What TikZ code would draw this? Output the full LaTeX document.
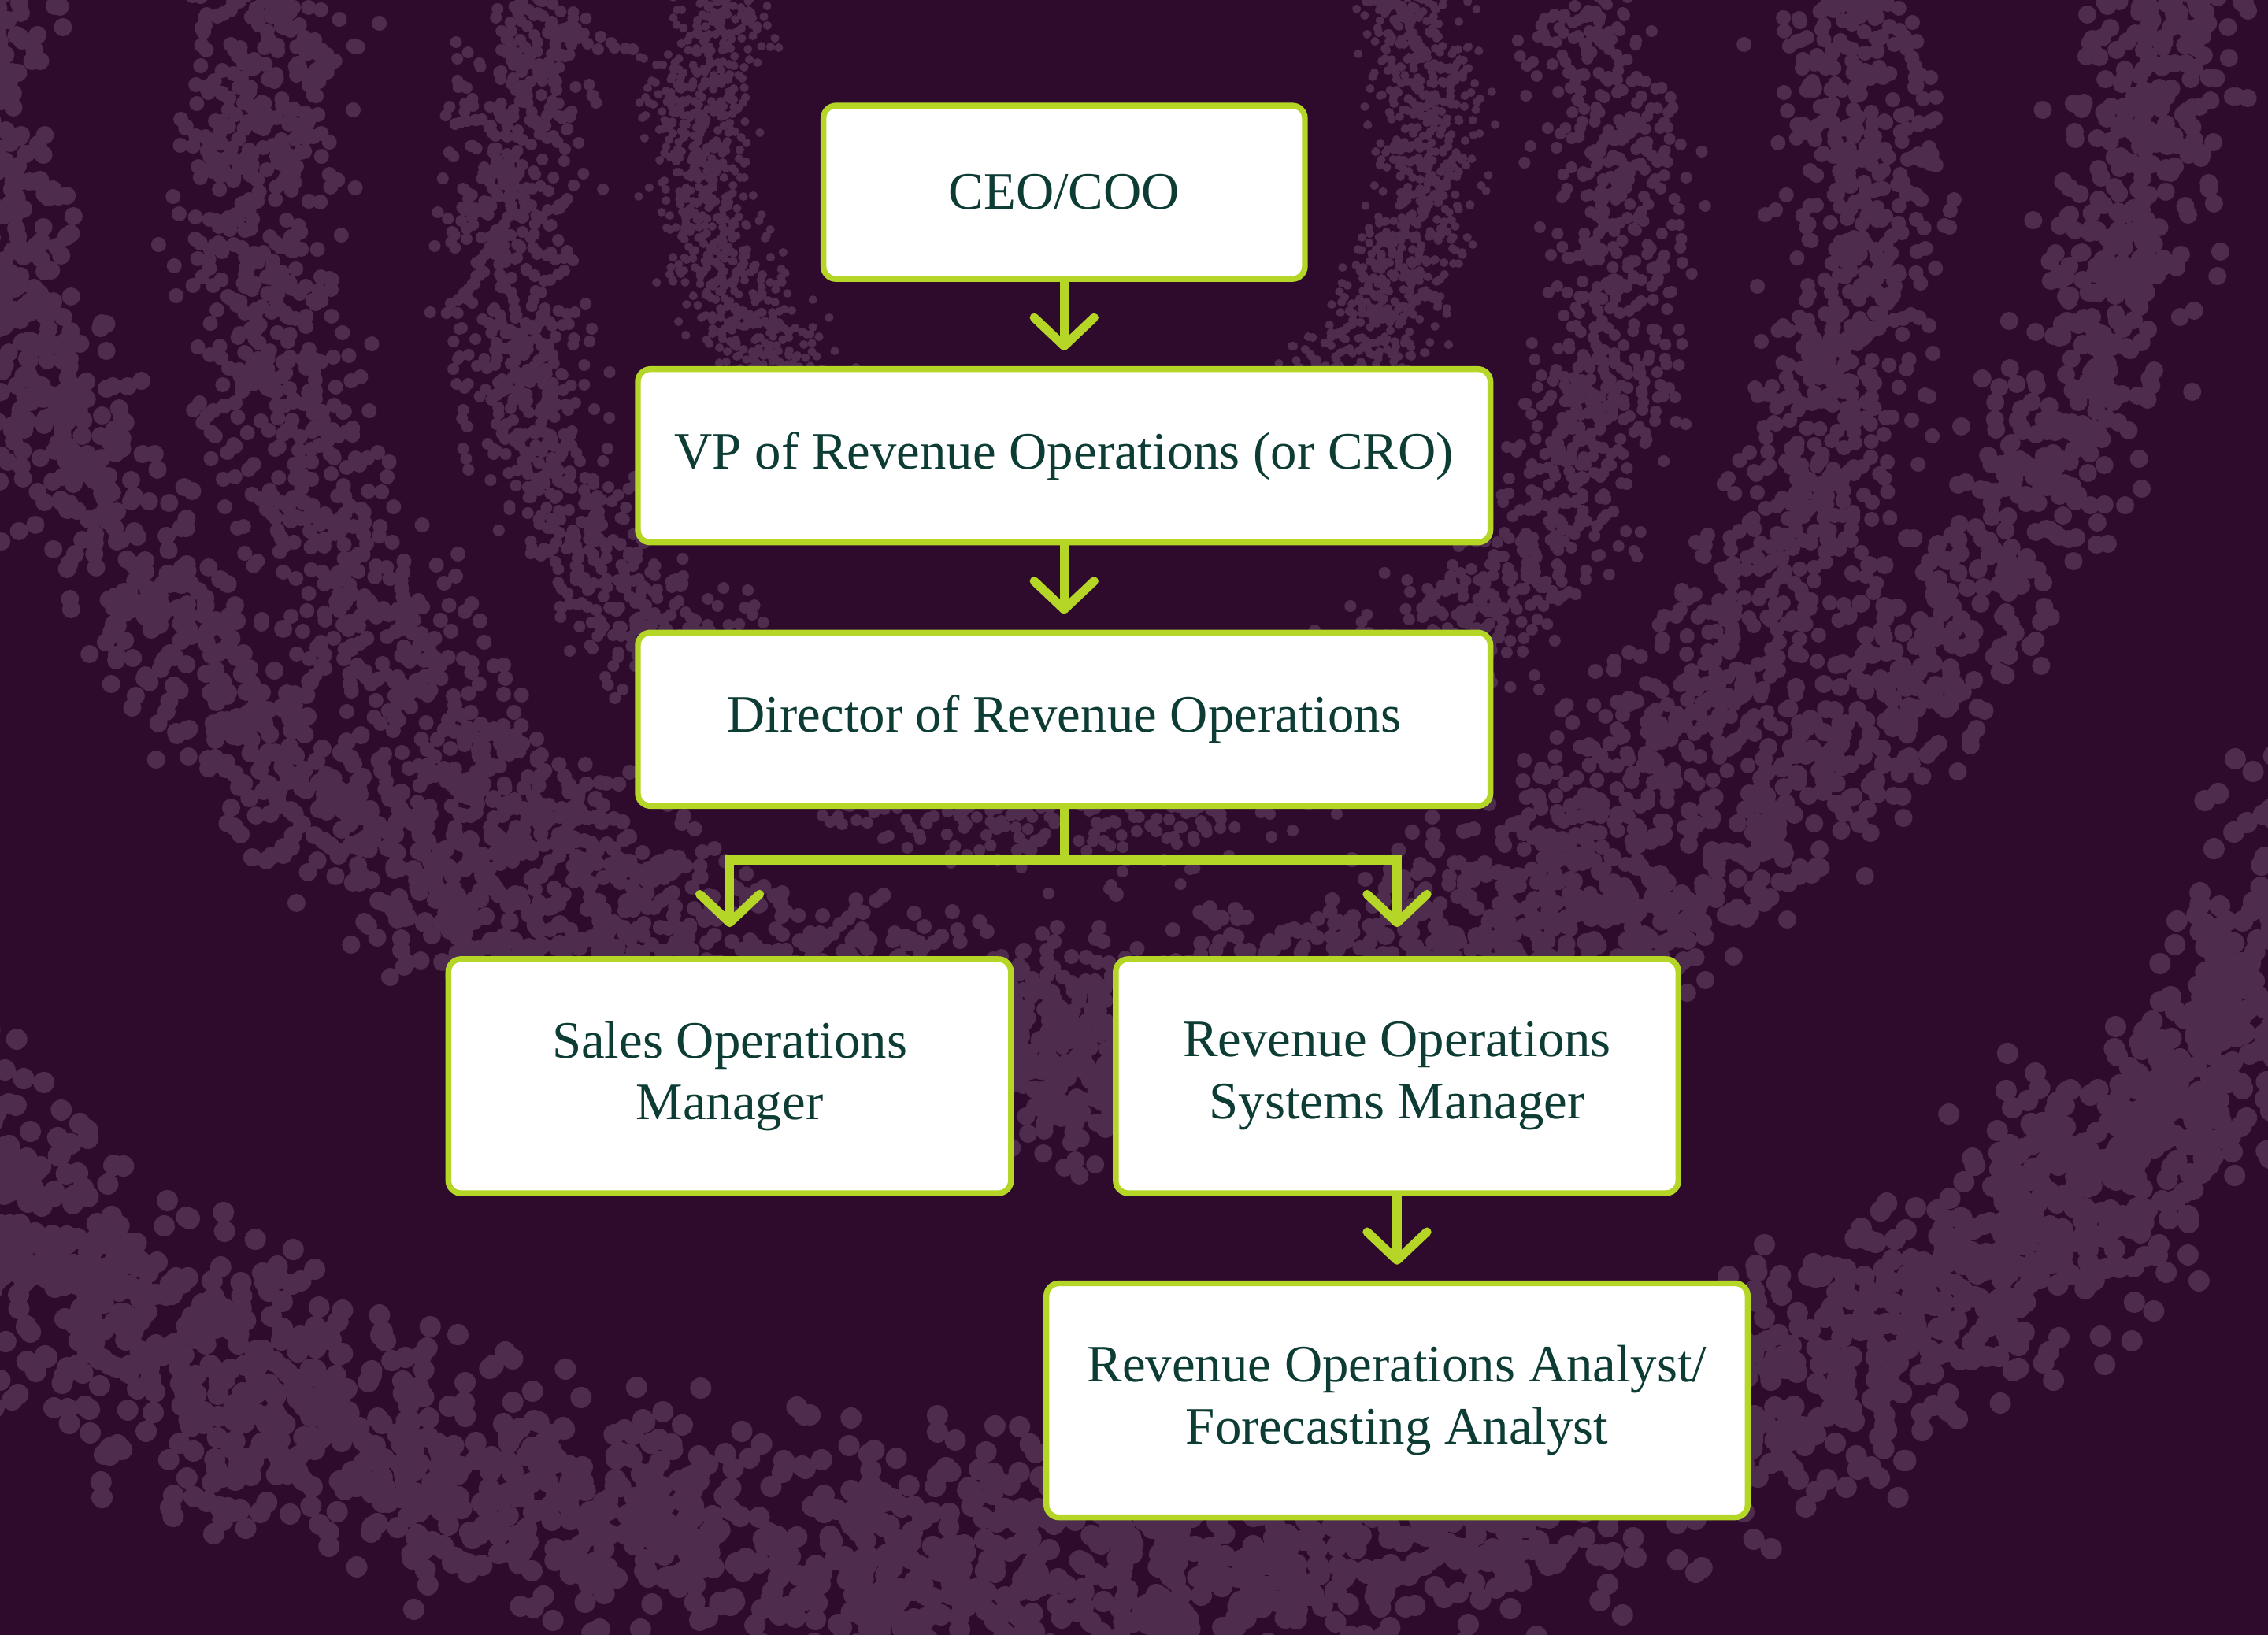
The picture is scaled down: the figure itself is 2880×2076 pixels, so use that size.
\documentclass[tikz,border=0pt]{standalone}
\usepackage{fontspec}
\setmainfont{Liberation Serif}
\usetikzlibrary{positioning,arrows.meta}

\definecolor{bgplum}{HTML}{2E0A2D}
\definecolor{dotplum}{HTML}{4E2C4E}
\definecolor{limegreen}{HTML}{B5D626}
\definecolor{inkgreen}{HTML}{0C3C34}

% count, centre x, centre y, x radius, y radius, half width, dot size, first angle, last angle
\newcommand{\dotring}[9]{%
  \draw[dotplum, line cap=round, line width=#7*0.01cm]
    \foreach \i in {1,...,#1}{
      \pgfextra{\pgfmathsetmacro{\dotang}{#8+rnd*(#9-#8)}%
        \pgfmathsetmacro{\dotoff}{#6*((rnd+rnd+rnd)/1.5-1)}}
      ({#2+(#4+\dotoff)*cos(\dotang)},{#3+(#5+\dotoff)*sin(\dotang)}) -- ++(0.01,0)
    };}

\begin{document}
\begin{tikzpicture}[
    box/.style={draw=limegreen, line width=2.1pt, fill=white, rounded corners=0.16cm,
      text=inkgreen, align=center, inner sep=0pt, font=\fontsize{19}{22.4}\selectfont},
    arrow/.style={-{Straight Barb[length=0.36cm, width=0.76cm, round]}, draw=limegreen,
      line width=3.2pt, shorten >=0.2cm},
    link/.style={draw=limegreen, line width=3.2pt}
]

\begin{scope}[x=0.01cm, y=-0.01cm]
\fill[bgplum] (0,0) rectangle (2880,2076);
\begin{scope}[overlay]
\clip (0,0) rectangle (2880,2076);
\pgfmathsetseed{42}
\dotring{1000}{1350}{175}{464}{464}{100}{11}{-25}{60}
\dotring{1000}{1350}{175}{464}{464}{100}{11}{120}{205}
\dotring{2600}{1350}{306}{709}{709}{130}{15}{-25}{205}
\dotring{2800}{1350}{262}{1024}{1024}{150}{19}{-15}{195}
\dotring{2600}{1350}{-10}{1390}{1390}{150}{23}{0}{180}
\dotring{3300}{1300}{600}{1800}{1390}{230}{27}{15}{160}
\end{scope}
\end{scope}

\node[box, minimum width=6.11cm, minimum height=2.2cm] (ceo) at (13.505,-2.44) {CEO/COO};
\node[box, minimum width=10.82cm, minimum height=2.2cm, below=1.07cm of ceo] (vp) {VP of Revenue Operations (or CRO)};
\node[box, minimum width=10.82cm, minimum height=2.2cm, below=1.07cm of vp] (dir) {Director of Revenue Operations};
\node[box, minimum width=7.14cm, minimum height=2.97cm, below=1.87cm of dir, xshift=-4.245cm] (salesmgr) {Sales Operations\\Manager};
\node[box, minimum width=7.14cm, minimum height=2.97cm, below=1.87cm of dir, xshift=4.225cm] (sysmgr) {Revenue Operations\\Systems Manager};
\node[box, minimum width=8.9cm, minimum height=2.97cm, below=1.07cm of sysmgr] (analyst) {Revenue Operations Analyst/\\Forecasting Analyst};

\draw[arrow] (ceo) -- (vp);
\draw[arrow] (vp) -- (dir);
\draw[link] (dir.south) -- ++(0,-0.65) coordinate (fork);
\draw[arrow, shorten >=0.37cm] (fork) -| (salesmgr);
\draw[arrow, shorten >=0.37cm] (fork) -| (sysmgr);
\draw[arrow] (sysmgr) -- (analyst);

\end{tikzpicture}
\end{document}
